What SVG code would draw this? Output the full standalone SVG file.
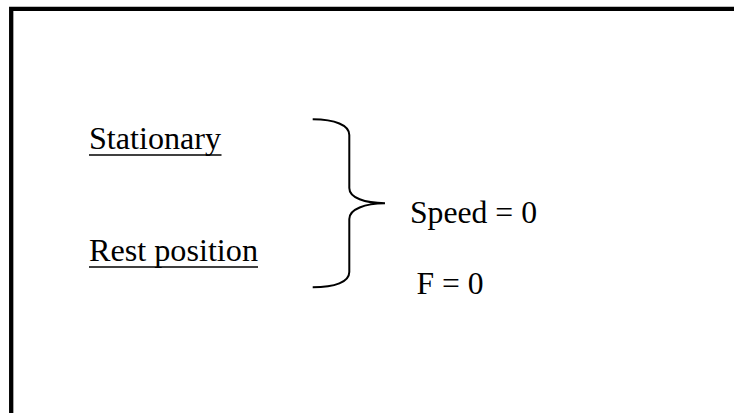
<svg xmlns="http://www.w3.org/2000/svg" width="734" height="413" viewBox="0 0 734 413">
<style>
.t{font-family:"Liberation Serif","Times New Roman",serif;font-size:31px;fill:#000}
.u{stroke:#000;stroke-width:1.6;fill:none}
</style>
<rect width="734" height="413" fill="#fff"/>
<path d="M11.2,413 V8.8 H736" fill="none" stroke="#000" stroke-width="4.3" stroke-linejoin="miter"/>
<g id="stationary">
<text class="t" x="89" y="148.5" textLength="132" lengthAdjust="spacingAndGlyphs">Stationary</text>
<line class="u" x1="89" y1="155" x2="221.5" y2="155"/>
</g>
<g id="rest">
<text class="t" x="89" y="261" textLength="169" lengthAdjust="spacingAndGlyphs">Rest position</text>
<line class="u" x1="89" y1="267" x2="258" y2="267"/>
</g>
<g id="connectors">
<path d="M312.7,119.3 C335,119.5 349.3,125 349.3,135 L349.3,188 C349.3,198 365,203 385,203.3 C365,203.5 349.3,209 349.3,219 L349.3,272 C349.3,282 335,287.3 312.7,287.3" fill="none" stroke="#000" stroke-width="2"/>
</g>
<g id="speed">
<text class="t" x="410" y="223.3" textLength="127" lengthAdjust="spacingAndGlyphs">Speed = 0</text>
</g>
<g id="force">
<text class="t" x="416.5" y="294.3" textLength="67" lengthAdjust="spacingAndGlyphs">F = 0</text>
</g>
</svg>
